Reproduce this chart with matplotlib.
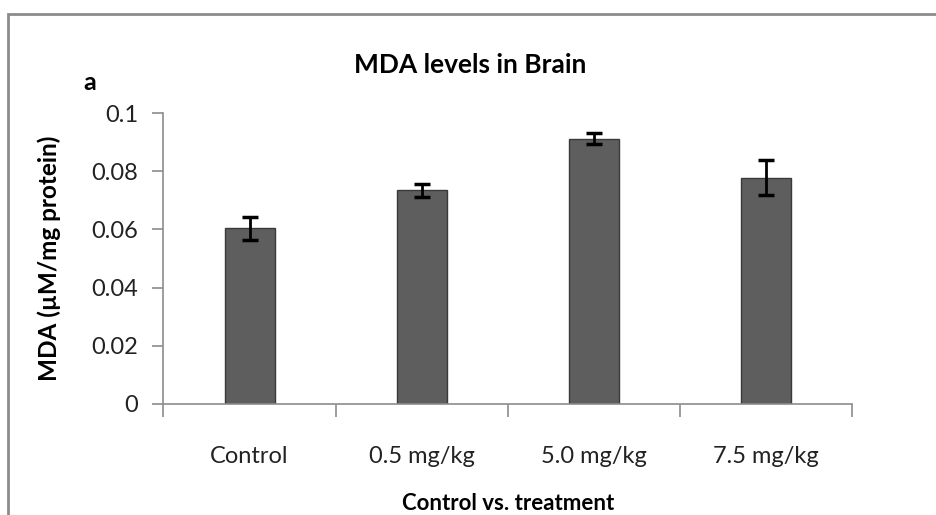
import matplotlib.pyplot as plt
from matplotlib.patches import Rectangle

groups = ['Control', '0.5 mg/kg', '5.0 mg/kg', '7.5 mg/kg']
mda = [0.0604, 0.0734, 0.0911, 0.0778]
mda_err = [0.0039, 0.0021, 0.0019, 0.0060]

W, H = 937, 515
fig = plt.figure(figsize=(W / 100, H / 100), dpi=100)
plt.rcParams['font.family'] = ['Lato', 'DejaVu Sans']

# outer chart frame (runs off right and bottom edges)
fig.patches.append(Rectangle((8 / W, -0.05), 1.0, 1 - 14 / H + 0.05,
                             transform=fig.transFigure, fill=False,
                             edgecolor='#8c8c8c', linewidth=2))

ax = fig.add_axes([163.5 / W, 1 - 404 / H, (852 - 163.5) / W, (404 - 113) / H])
index = range(len(groups))
ax.bar(index, mda, 0.29, color='#5e5e5e', edgecolor='#3a3a3a', linewidth=1, zorder=2)
ax.errorbar(index, mda, yerr=mda_err, fmt='none', ecolor='black',
            elinewidth=2, capsize=6, capthick=2.5, zorder=3)

ax.set_xlim(-0.5, len(groups) - 0.5)
ax.set_ylim(0, 0.1)
ax.set_yticks([0, 0.02, 0.04, 0.06, 0.08, 0.1])
ax.set_yticklabels(['0', '0.02', '0.04', '0.06', '0.08', '0.1'])
ax.set_xticks([i - 0.5 for i in range(len(groups) + 1)])
ax.set_xticklabels([])
ax.set_xticks(list(index), minor=True)
ax.set_xticklabels(groups, minor=True)
ax.tick_params(axis='x', which='minor', length=0, pad=30, labelsize=17, colors='#222222')
ax.tick_params(axis='x', which='major', length=9, color='#8c8c8c', width=1.2)
ax.tick_params(axis='y', length=8, color='#8c8c8c', width=1.2, labelsize=17,
               labelcolor='#222222', pad=10)

for s in ['top', 'right']:
    ax.spines[s].set_visible(False)
for s in ['left', 'bottom']:
    ax.spines[s].set_color('#8c8c8c')
    ax.spines[s].set_linewidth(1.2)

ax.set_ylabel('MDA (\u00b5M/mg protein)', fontsize=17.5, fontweight='bold', labelpad=22)
ax.set_xlabel('Control vs. treatment', fontsize=16, fontweight='bold', labelpad=19)
fig.text(470 / W, 1 - 65 / H, 'MDA levels in Brain', fontsize=19, fontweight='bold',
         ha='center', va='center')
fig.text(90 / W, 1 - 82 / H, 'a', fontsize=18, fontweight='bold', ha='center', va='center')

fig.savefig('out.png', dpi=100)
